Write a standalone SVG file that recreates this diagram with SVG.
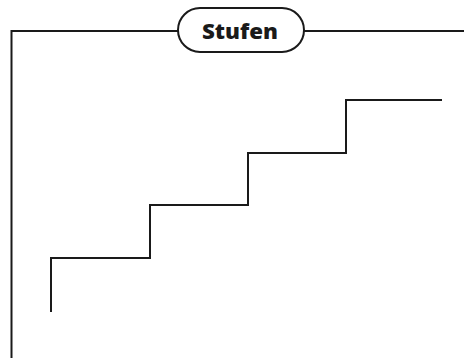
<svg xmlns="http://www.w3.org/2000/svg" width="464" height="358" viewBox="0 0 464 358">
<style>
.ln{fill:none;stroke:#1a1a1a;stroke-width:2;}
.pill{fill:#fff;stroke:#1a1a1a;stroke-width:2;}
.t{font-family:"Open Sans","Liberation Sans",sans-serif;font-weight:800;font-size:21px;fill:#1a1a1a;}
</style>
<g id="connectors">
<path class="ln" d="M11.5 358 V31 H178 M304 31 H464"/>
</g>
<g id="title">
<rect class="pill" x="178" y="8" width="126" height="44" rx="22"/>
<text class="t" x="240" y="38.5" text-anchor="middle" textLength="76" lengthAdjust="spacingAndGlyphs">Stufen</text>
</g>
<g id="stairs">
<path class="ln" d="M51 312 V258 H150 V205 H248 V153 H346 V100 H442"/>
</g>
</svg>
